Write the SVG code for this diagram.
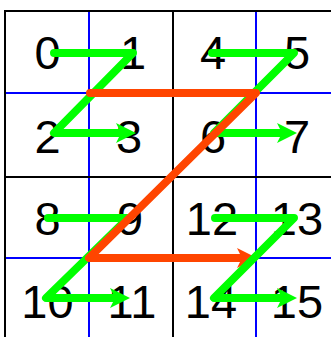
<svg xmlns="http://www.w3.org/2000/svg" width="331" height="337" viewBox="0 0 331 337">
<style>
.bg{fill:#ffffff}
.blk{stroke:#000000;stroke-width:2;fill:none}
.blu{stroke:#0000ff;stroke-width:2;fill:none}
.lbl{font-family:"Liberation Sans",Arial,sans-serif;font-size:47px;fill:#000000;text-anchor:middle}
.g{stroke:#00ff00;stroke-width:8;fill:none;stroke-linecap:round;stroke-linejoin:round;marker-end:url(#ag)}
.o{stroke:#ff4500;stroke-width:8;fill:none;stroke-linecap:round;stroke-linejoin:round;marker-end:url(#ao)}
</style>
<defs>
<marker id="ag" viewBox="0 0 20 20" refX="8" refY="10" markerWidth="20" markerHeight="20" markerUnits="userSpaceOnUse" orient="auto">
<path d="M0,0 L20,10 L0,20 L5,10 Z" fill="#00ff00"/>
</marker>
<marker id="ao" viewBox="0 0 20 20" refX="8" refY="10" markerWidth="20" markerHeight="20" markerUnits="userSpaceOnUse" orient="auto">
<path d="M0,0 L20,10 L0,20 L5,10 Z" fill="#ff4500"/>
</marker>
</defs>
<rect class="bg" x="0" y="0" width="331" height="337"/>
<g id="grid">
<line class="blu" x1="89" y1="11" x2="89" y2="337"/>
<line class="blu" x1="256" y1="11" x2="256" y2="337"/>
<line class="blu" x1="5" y1="93" x2="331" y2="93"/>
<line class="blu" x1="5" y1="258" x2="331" y2="258"/>
<line class="blk" x1="5" y1="11" x2="331" y2="11"/>
<line class="blk" x1="5" y1="177" x2="331" y2="177"/>
<line class="blk" x1="5" y1="10" x2="5" y2="337"/>
<line class="blk" x1="173" y1="10" x2="173" y2="337"/>
</g>
<g id="n0"><text class="lbl" x="47.5" y="68.5">0</text></g>
<g id="n1"><text class="lbl" x="133" y="68.5">1</text></g>
<g id="n2"><text class="lbl" x="47.5" y="152.5">2</text></g>
<g id="n3"><text class="lbl" x="129" y="152.5">3</text></g>
<g id="n4"><text class="lbl" x="213" y="68.5">4</text></g>
<g id="n5"><text class="lbl" x="297" y="68.5">5</text></g>
<g id="n6"><text class="lbl" x="213" y="152.5">6</text></g>
<g id="n7"><text class="lbl" x="297" y="152.5">7</text></g>
<g id="n8"><text class="lbl" x="47.5" y="235">8</text></g>
<g id="n9"><text class="lbl" x="130" y="235">9</text></g>
<g id="n10"><text class="lbl" x="47.5" y="318">10</text></g>
<g id="n11"><text class="lbl" x="132" y="318">11</text></g>
<g id="n12"><text class="lbl" x="212" y="235">12</text></g>
<g id="n13"><text class="lbl" x="297" y="235">13</text></g>
<g id="n14"><text class="lbl" x="211" y="318">14</text></g>
<g id="n15"><text class="lbl" x="297" y="318">15</text></g>
<g id="connectors">
<path class="g" d="M54,53 H133 L54,133 H124"/>
<path class="g" d="M212,53 H294 L214,133 H285"/>
<path class="g" d="M48,218 H128 L46,298 H118"/>
<path class="o" d="M90,93 H256 L89,258 H245"/>
<path class="g" d="M215,218 H294 L214,298 H285"/>
</g>
</svg>
